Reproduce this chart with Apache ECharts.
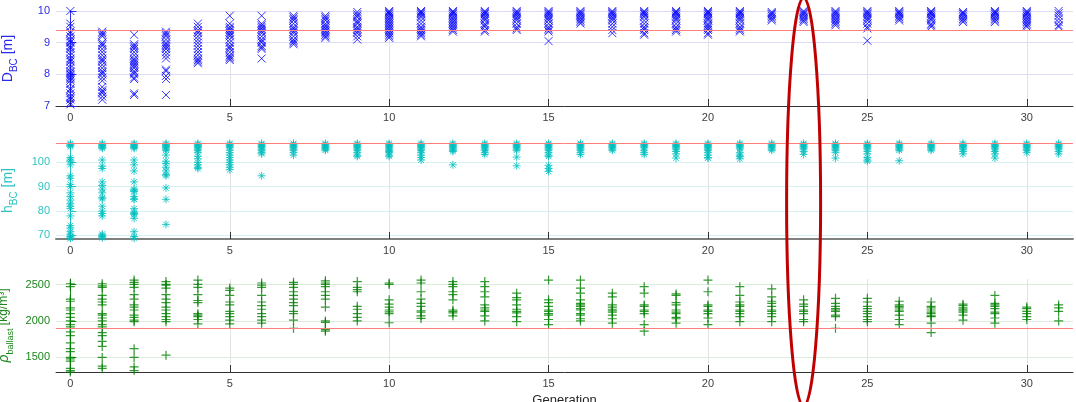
<!DOCTYPE html>
<html>
<head>
<meta charset="utf-8">
<script src="https://cdn.jsdelivr.net/npm/echarts@6/dist/echarts.min.js"></script>
<style>
  html, body { margin: 0; padding: 0; background: #fff; }
  #chart { width: 1076px; height: 402px; }
</style>
</head>
<body>
<div id="chart"></div>
<script>
// x ticks shared by the three panels
const generationTicks = [0, 5, 10, 15, 20, 25, 30];
const highlightGeneration = 23;

// D_BC [m], one list per generation
const dbcByGen = [
  [10.0, 9.6, 9.5, 9.35, 9.3, 9.2, 9.1, 9.05, 9.0, 8.9, 8.85, 8.8, 8.7, 8.6, 8.5, 8.45, 8.4, 8.3, 8.2, 8.1, 8.05, 8.0, 7.95, 7.9, 7.85, 7.8, 7.7, 7.55, 7.5, 7.4, 7.3, 7.25, 7.2, 7.1, 7.05],
  [9.35, 9.3, 9.25, 9.2, 9.0, 8.95, 8.9, 8.8, 8.7, 8.6, 8.5, 8.45, 8.4, 8.3, 8.2, 8.1, 8.05, 8.0, 7.9, 7.8, 7.6, 7.5, 7.45, 7.4, 7.3, 7.2],
  [9.25, 8.95, 8.9, 8.85, 8.8, 8.7, 8.6, 8.5, 8.45, 8.4, 8.35, 8.3, 8.25, 8.2, 8.1, 8.05, 8.0, 7.9, 7.85, 7.4, 7.35],
  [9.35, 9.3, 9.25, 9.2, 9.1, 9.0, 8.95, 8.9, 8.85, 8.8, 8.7, 8.6, 8.5, 8.15, 8.1, 7.95, 7.85, 7.35],
  [9.6, 9.5, 9.4, 9.35, 9.3, 9.2, 9.1, 9.0, 8.9, 8.8, 8.7, 8.6, 8.5, 8.45, 8.4, 8.35],
  [9.85, 9.6, 9.5, 9.45, 9.4, 9.35, 9.3, 9.25, 9.2, 9.1, 9.0, 8.9, 8.85, 8.8, 8.7, 8.6, 8.55, 8.5, 8.45],
  [9.85, 9.6, 9.55, 9.5, 9.45, 9.4, 9.35, 9.3, 9.2, 9.1, 9.05, 9.0, 8.9, 8.85, 8.8, 8.5],
  [9.85, 9.8, 9.75, 9.7, 9.6, 9.5, 9.45, 9.4, 9.35, 9.3, 9.2, 9.1, 9.05, 9.0, 8.95],
  [9.85, 9.8, 9.75, 9.7, 9.6, 9.55, 9.5, 9.45, 9.4, 9.35, 9.3, 9.25, 9.2, 9.15],
  [9.97, 9.9, 9.85, 9.8, 9.7, 9.65, 9.6, 9.5, 9.45, 9.4, 9.35, 9.3, 9.2, 9.1],
  [10.0, 9.97, 9.93, 9.9, 9.85, 9.8, 9.75, 9.7, 9.65, 9.6, 9.55, 9.5, 9.45, 9.4, 9.35, 9.3, 9.25, 9.2, 9.15],
  [10.0, 9.97, 9.93, 9.9, 9.85, 9.8, 9.7, 9.6, 9.5, 9.45, 9.4, 9.35, 9.3, 9.25, 9.2],
  [10.0, 9.97, 9.93, 9.9, 9.85, 9.8, 9.75, 9.7, 9.65, 9.6, 9.55, 9.5, 9.45, 9.4, 9.35],
  [10.0, 9.97, 9.93, 9.9, 9.85, 9.8, 9.75, 9.7, 9.6, 9.55, 9.5, 9.4, 9.35],
  [10.0, 9.97, 9.93, 9.9, 9.85, 9.8, 9.75, 9.7, 9.6, 9.5, 9.45, 9.4],
  [10.0, 9.97, 9.93, 9.9, 9.85, 9.8, 9.75, 9.7, 9.6, 9.5, 9.45, 9.4, 9.35, 9.05],
  [10.0, 9.97, 9.93, 9.9, 9.85, 9.8, 9.75, 9.7, 9.65, 9.6],
  [10.0, 9.97, 9.93, 9.9, 9.85, 9.8, 9.75, 9.7, 9.6, 9.5, 9.4, 9.3],
  [10.0, 9.97, 9.93, 9.9, 9.85, 9.8, 9.7, 9.6, 9.5, 9.45, 9.4, 9.3, 9.25],
  [10.0, 9.97, 9.93, 9.9, 9.85, 9.8, 9.75, 9.7, 9.6, 9.5, 9.45, 9.4, 9.35],
  [10.0, 9.97, 9.93, 9.9, 9.85, 9.8, 9.75, 9.7, 9.6, 9.55, 9.5, 9.45, 9.4, 9.3, 9.25],
  [10.0, 9.97, 9.93, 9.9, 9.85, 9.8, 9.75, 9.7, 9.6, 9.5, 9.45, 9.4, 9.35],
  [9.97, 9.93, 9.9, 9.85, 9.8, 9.75, 9.7],
  [10.0, 9.97, 9.93, 9.9, 9.85, 9.8, 9.75, 9.7, 9.65],
  [10.0, 9.97, 9.93, 9.9, 9.85, 9.8, 9.75, 9.7, 9.65, 9.6, 9.55],
  [10.0, 9.97, 9.93, 9.9, 9.85, 9.8, 9.75, 9.7, 9.6, 9.5, 9.45, 9.06],
  [10.0, 9.97, 9.93, 9.9, 9.85, 9.8, 9.75, 9.7],
  [10.0, 9.97, 9.93, 9.9, 9.85, 9.8, 9.75, 9.7, 9.6, 9.55, 9.5],
  [9.97, 9.93, 9.9, 9.85, 9.8, 9.75, 9.7, 9.65],
  [10.0, 9.97, 9.93, 9.9, 9.85, 9.8, 9.75, 9.7, 9.65],
  [10.0, 9.97, 9.93, 9.9, 9.85, 9.8, 9.75, 9.7, 9.65, 9.6, 9.55, 9.5],
  [10.0, 9.93, 9.85, 9.75, 9.65, 9.55, 9.5]
];
const dbcTicks = [7, 8, 9, 10];
const dbcLimit = 9.4;

// h_BC [m], one list per generation
const hbcByGen = [
  [107.8, 107.4, 107, 106.5, 102, 101, 100.5, 99, 94.5, 93.5, 91, 90, 87.5, 86, 84.5, 83, 82, 81, 78, 74, 73, 71.5, 70.5, 69.5, 69, 68.8],
  [107.8, 107.4, 107, 106.6, 106.2, 105.8, 101, 98.5, 97.5, 92, 90.5, 89, 87.5, 85.5, 85, 82, 80, 79, 78, 70.5, 70, 69.5, 69],
  [107.8, 107.4, 107, 106.6, 106.2, 105.8, 101, 99, 96.5, 92, 89, 88.5, 88, 86, 85, 84.8, 81, 79.5, 79, 78.5, 77, 71.5, 69.5, 68.8],
  [107.8, 107.4, 107, 106.5, 106, 105.5, 105, 103, 100.5, 99.5, 98, 96.5, 95, 94.5, 89.5, 84.8, 74.5],
  [107.8, 107.4, 107, 106.5, 106, 105.5, 105, 104, 102.5, 101.5, 100, 99, 98, 97.5],
  [107.8, 107.4, 107, 106.5, 106, 105, 104, 103, 102, 101, 100, 99, 98, 97],
  [107.8, 107.4, 107, 106.5, 106, 105.5, 105, 104, 103.5, 94.5],
  [107.8, 107.4, 107, 106.5, 106, 105.5, 105, 104, 103],
  [107.8, 107.4, 107, 106.6, 106.2, 105.8, 105.4, 105],
  [107.8, 107.4, 107, 106.5, 106, 105.5, 105, 104, 103, 102.5],
  [107.8, 107.4, 107, 106.5, 106, 105.5, 105, 104.5, 104, 103, 102.5],
  [107.8, 107.4, 107, 106.5, 106, 105.5, 105, 104, 103, 102, 101],
  [107.8, 107.4, 107, 106.5, 106, 105.5, 105, 104.5, 99],
  [107.8, 107.4, 107, 106.5, 106, 105.5, 105, 104, 103.3],
  [107.8, 107.4, 107, 106.5, 106, 105.5, 105, 102.2, 98.6],
  [107.8, 107.4, 107, 106.5, 106, 105.5, 105, 104, 103, 102.5, 98.8, 97.5, 96.3],
  [107.8, 107.4, 107, 106.5, 106, 105.5, 105, 104, 103.3],
  [107.8, 107.4, 107, 106.5, 106, 105.5, 105],
  [107.8, 107.4, 107, 106.5, 106, 105, 104, 103.3],
  [107.8, 107.4, 107, 106.5, 106, 105.5, 104.5, 103.5, 101.8],
  [107.8, 107.4, 107, 106.5, 106, 105.5, 105, 104, 103, 102, 101.8],
  [107.8, 107.4, 107, 106.5, 106, 105.5, 104, 103, 102.5, 101.5],
  [107.8, 107.4, 107, 106.5, 106, 105.5, 105],
  [107.8, 107.4, 107, 106.5, 106, 105.5, 104.5, 103.3],
  [107.8, 107.4, 107, 106.5, 106, 105.5, 105, 104, 101.8],
  [107.8, 107.4, 107, 106.5, 106, 105.5, 104.5, 103.5, 102, 101, 100.5],
  [107.8, 107.4, 107, 106.5, 106, 105.5, 105, 100.7],
  [107.8, 107.4, 107, 106.5, 106, 105.5, 105],
  [107.8, 107.4, 107, 106.5, 106, 105.5, 104.5, 103.5],
  [107.8, 107.4, 107, 106.5, 106, 105.5, 104.5, 103.5, 101.8],
  [107.8, 107.4, 107, 106.5, 106, 105.5, 105, 104],
  [107.8, 107.4, 107, 106.5, 106, 105.5, 104.5, 103.5]
];
const hbcTicks = [70, 80, 90, 100];
const hbcLimit = 108;

// rho_ballast [kg/m3], one list per generation
const rhoByGen = [
  [2510, 2470, 2300, 2270, 2180, 2150, 2100, 2050, 2000, 1950, 1920, 1850, 1800, 1700, 1620, 1580, 1500, 1480, 1450, 1350, 1320, 1300],
  [2510, 2480, 2460, 2350, 2300, 2260, 2220, 2100, 2080, 2040, 2000, 1950, 1920, 1840, 1800, 1720, 1650, 1500, 1380, 1350],
  [2590, 2560, 2530, 2500, 2460, 2360, 2300, 2220, 2190, 2150, 2080, 2050, 2010, 1990, 1620, 1500, 1370, 1320],
  [2540, 2500, 2490, 2450, 2360, 2300, 2250, 2190, 2150, 2100, 2060, 2020, 1990, 1530],
  [2600, 2560, 2500, 2460, 2360, 2280, 2250, 2100, 2080, 2060, 2020, 1960],
  [2610, 2580, 2450, 2420, 2350, 2260, 2220, 2130, 2100, 2060, 2010, 1960],
  [2520, 2490, 2460, 2350, 2260, 2210, 2160, 2100, 2060, 2010, 1970],
  [2580, 2530, 2500, 2460, 2400, 2350, 2300, 2250, 2210, 2130, 2100, 2010, 1900],
  [2550, 2520, 2500, 2470, 2400, 2350, 2300, 2190, 2000, 1980, 1880, 1860],
  [2540, 2460, 2430, 2400, 2200, 2160, 2100, 2050, 2000],
  [2580, 2520, 2500, 2290, 2230, 2190, 2150, 2125, 2100, 1975],
  [2610, 2560, 2520, 2400, 2300, 2240, 2200, 2140, 2120, 2070, 2035],
  [2580, 2540, 2500, 2470, 2400, 2360, 2290, 2150, 2130, 2110, 2070],
  [2540, 2470, 2400, 2330, 2220, 2180, 2150, 2130, 2070, 2000],
  [2380, 2320, 2290, 2220, 2160, 2130, 2110, 2060, 1990],
  [2560, 2290, 2250, 2200, 2150, 2130, 2100, 2080, 2020, 1950],
  [2560, 2450, 2380, 2290, 2240, 2220, 2200, 2170, 2150, 2100, 2080, 2030, 2000],
  [2380, 2330, 2220, 2190, 2160, 2140, 2120, 2080, 2030, 1970],
  [2470, 2380, 2220, 2200, 2150, 2130, 2100, 1950, 1860],
  [2370, 2350, 2250, 2220, 2150, 2120, 2100, 2050, 2030, 1970],
  [2580, 2560, 2400, 2220, 2200, 2150, 2130, 2100, 2040, 1950],
  [2470, 2350, 2260, 2220, 2200, 2150, 2130, 2100, 2060, 1990],
  [2440, 2330, 2270, 2240, 2200, 2150, 2130, 2100, 2060, 1990],
  [2290, 2230, 2200, 2150, 2130, 2100, 2020, 1990],
  [2310, 2240, 2200, 2170, 2150, 2130, 2080, 2060, 1900],
  [2310, 2260, 2200, 2170, 2130, 2100, 2060, 2020, 1990],
  [2270, 2220, 2200, 2180, 2150, 2130, 2080, 2020, 1950],
  [2260, 2200, 2180, 2150, 2120, 2100, 2070, 2060, 1970, 1840],
  [2230, 2210, 2180, 2160, 2140, 2120, 2080, 2010],
  [2350, 2240, 2220, 2200, 2170, 2120, 2100, 2040, 1970],
  [2190, 2170, 2130, 2100, 2060, 2020],
  [2220, 2180, 2130, 2000]
];
const rhoTicks = [1500, 2000, 2500];
const rhoLimit = 1900;

// Marker shapes (MATLAB-like x, *, +)
const MARK_X = 'path://M0,0L10,10M10,0L0,10';
const MARK_STAR = 'path://M5,0L5,10M0,5L10,5M1.5,1.5L8.5,8.5M8.5,1.5L1.5,8.5';
const MARK_PLUS = 'path://M5,0L5,10M0,5L10,5';

const FONT = "'Liberation Sans', Arial, Helvetica, sans-serif";

const PANELS = [
  { data: dbcByGen, ticks: dbcTicks, limit: dbcLimit, min: 7, max: 10, top: 11, height: 95,
    color: '#0000ff', text: '#2a2ae8', grid: '#dcdcfa', symbol: MARK_X, size: 8, stroke: 1,
    mainSize: 14, subSize: 10, name: '{main|D}{sub|BC}{main| [m]}' },
  { data: hbcByGen, ticks: hbcTicks, limit: hbcLimit, min: 68.5, max: 108.4, top: 142, height: 97,
    color: '#00bfbf', text: '#33c2c2', grid: '#d6f1f1', symbol: MARK_STAR, size: 8, stroke: 1,
    mainSize: 14, subSize: 10, name: '{main|h}{sub|BC}{main| [m]}' },
  { data: rhoByGen, ticks: rhoTicks, limit: rhoLimit, min: 1300, max: 2575, top: 279, height: 93,
    color: '#008000', text: '#1a861a', grid: '#dcebdc', symbol: MARK_PLUS, size: 9, stroke: 1.2,
    mainSize: 12, subSize: 9, name: '{rho|ρ}{sub|ballast}{main| [kg/m³]}' }
];

const toPoints = byGen => byGen.flatMap((vals, g) => vals.map(v => [g, v]));

const chart = echarts.init(document.getElementById('chart'), null, { renderer: 'canvas' });

const option = {
  animation: false,
  backgroundColor: '#ffffff',
  grid: PANELS.map(p => ({
    left: 56, right: 3, top: p.top, height: p.height,
    containLabel: false, outerBoundsMode: 'none'
  })),
  xAxis: PANELS.map((p, i) => ({
    type: 'value',
    gridIndex: i,
    min: -0.45,
    max: 31.45,
    name: i === 2 ? 'Generation' : '',
    nameLocation: 'middle',
    nameGap: 22,
    nameTextStyle: { color: '#262626', fontSize: 13, fontFamily: FONT, verticalAlign: 'top' },
    axisLine: { show: true, lineStyle: { color: i === 1 ? '#808080' : '#333333', width: i === 1 ? 2 : 1 } },
    axisTick: { show: true, inside: true, length: 7, customValues: generationTicks, lineStyle: { color: '#333333' } },
    axisLabel: { customValues: generationTicks, color: '#404040', fontSize: 11, fontFamily: FONT, margin: 6 },
    splitLine: { show: true, lineStyle: { color: '#e2e2e2', width: 1 } }
  })),
  yAxis: PANELS.map((p, i) => ({
    type: 'value',
    gridIndex: i,
    min: p.min,
    max: p.max,
    name: p.name,
    nameLocation: 'middle',
    nameRotate: 90,
    nameGap: 37,
    nameTextStyle: {
      color: p.text,
      fontFamily: FONT,
      rich: {
        main: { fontSize: p.mainSize, color: p.text, fontFamily: FONT, lineHeight: 22 },
        rho: { fontSize: 14, color: p.text, fontFamily: FONT, fontStyle: 'italic', lineHeight: 22 },
        sub: { fontSize: p.subSize, color: p.text, fontFamily: FONT, lineHeight: 11, verticalAlign: 'bottom' }
      }
    },
    axisLine: { show: true, lineStyle: { color: p.text, width: 1 } },
    axisTick: { show: true, inside: true, length: 6, customValues: p.ticks, lineStyle: { color: p.text } },
    axisLabel: {
      customValues: p.ticks, color: p.text, fontSize: 11, fontFamily: FONT, margin: 6,
      formatter: v => String(v)
    },
    splitLine: { show: true, lineStyle: { color: p.grid, width: 1 } }
  })),
  series: PANELS.map((p, i) => ({
    type: 'scatter',
    xAxisIndex: i,
    yAxisIndex: i,
    data: toPoints(p.data),
    symbol: p.symbol,
    symbolSize: p.size,
    itemStyle: { color: 'rgba(0,0,0,0)', borderColor: p.color, borderWidth: p.stroke },
    emphasis: { disabled: true },
    clip: true,
    markLine: {
      silent: true,
      symbol: 'none',
      label: { show: false },
      lineStyle: { color: '#ff7f7f', width: 1, type: 'solid' },
      data: [{ yAxis: p.limit }]
    }
  }))
};

chart.setOption(option);

// red ellipse drawn around the highlighted generation
const cx = chart.convertToPixel({ xAxisIndex: 0 }, highlightGeneration);
chart.setOption({
  graphic: [{
    type: 'ellipse',
    z: 100,
    silent: true,
    shape: { cx: cx, cy: 202, rx: 17, ry: 204 },
    style: { fill: 'none', stroke: '#c00000', lineWidth: 3 }
  }]
});
</script>
</body>
</html>
